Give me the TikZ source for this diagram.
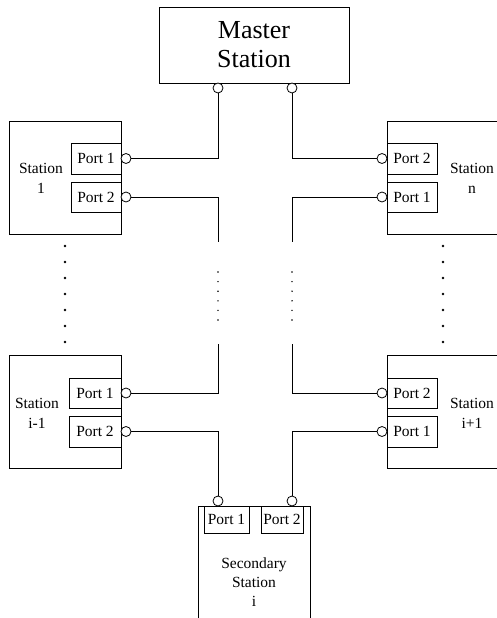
\documentclass[tikz,border=0pt]{standalone}
\usepackage{fontspec}
\setmainfont{Liberation Serif}
\begin{document}
\begin{tikzpicture}[x=1pt,y=-1pt,
  box/.style={draw, line width=0.8pt, inner sep=0pt},
  port/.style={draw, line width=0.8pt, inner sep=0pt, font=\fontsize{15.5}{18}\selectfont},
  jack/.style={draw, circle, line width=0.8pt, minimum size=10pt, inner sep=0pt, fill=white},
  wire/.style={line width=0.8pt},
  lbl/.style={font=\fontsize{15.5}{20}\selectfont, align=center, inner sep=0pt},
  bigdot/.style={circle, fill=black, minimum size=2.6pt, inner sep=0pt},
  smalldot/.style={circle, fill=black, minimum size=1.6pt, inner sep=0pt}]
\useasboundingbox (0,0) rectangle (497,618);

% Master station
\node[box, minimum width=190pt, minimum height=76pt, font=\fontsize{26}{29}\selectfont, align=center] (master) at (254,45) {Master\\Station};
\node[jack] (mL) at (218,88) {};
\node[jack] (mR) at (292,88) {};

% Station 1
\node[box, minimum width=112pt, minimum height=113pt] (st1) at (65,177.5) {};
\node[lbl] (st1l) at (41,178) {Station\\1};
\node[port, minimum width=50pt, minimum height=31pt] (s1p1) at (96,158.5) {Port 1};
\node[port, minimum width=50pt, minimum height=30pt] (s1p2) at (96,197) {Port 2};
\node[jack] (s1c1) at (126,158.5) {};
\node[jack] (s1c2) at (126,197) {};

% Station n
\node[box, minimum width=112pt, minimum height=113pt] (stn) at (443,177.5) {};
\node[lbl] (stnl) at (472,178) {Station\\n};
\node[port, minimum width=50pt, minimum height=31pt] (snp2) at (412,158.5) {Port 2};
\node[port, minimum width=50pt, minimum height=30pt] (snp1) at (412,197) {Port 1};
\node[jack] (snc2) at (382,158.5) {};
\node[jack] (snc1) at (382,197) {};

% Station i-1
\node[box, minimum width=112pt, minimum height=113pt] (sa) at (65,411.5) {};
\node[lbl] (sal) at (37,413) {Station\\i-1};
\node[port, minimum width=52pt, minimum height=30pt] (sap1) at (95,393) {Port 1};
\node[port, minimum width=52pt, minimum height=31pt] (sap2) at (95,431.5) {Port 2};
\node[jack] (sac1) at (126,393) {};
\node[jack] (sac2) at (126,431.5) {};

% Station i+1
\node[box, minimum width=112pt, minimum height=113pt] (sb) at (443,411.5) {};
\node[lbl] (sbl) at (472,413) {Station\\i+1};
\node[port, minimum width=50pt, minimum height=30pt] (sbp2) at (412,393) {Port 2};
\node[port, minimum width=50pt, minimum height=31pt] (sbp1) at (412,431.5) {Port 1};
\node[jack] (sbc2) at (382,393) {};
\node[jack] (sbc1) at (382,431.5) {};

% Secondary station i
\node[box, minimum width=112pt, minimum height=130pt] (sec) at (254,571) {};
\node[lbl, font=\fontsize{15.5}{19}\selectfont] (secl) at (254,582) {Secondary\\Station\\i};
\node[port, minimum width=45pt, minimum height=27pt] (scp1) at (226.5,519.5) {Port 1};
\node[port, minimum width=42pt, minimum height=27pt] (scp2) at (282,519.5) {Port 2};
\node[jack] (scc1) at (218,501) {};
\node[jack] (scc2) at (292,501) {};

% Wire ends at gaps
\coordinate (gL1) at (218,242);
\coordinate (gL2) at (218,344);
\coordinate (gR1) at (292,242);
\coordinate (gR2) at (292,344);

% Wires
\draw[wire] (mL.south) |- (s1c1.east);
\draw[wire] (s1c2.east) -| (gL1);
\draw[wire] (gL2) |- (sac1.east);
\draw[wire] (sac2.east) -| (scc1.north);
\draw[wire] (mR.south) |- (snc2.west);
\draw[wire] (snc1.west) -| (gR1);
\draw[wire] (gR2) |- (sbc2.west);
\draw[wire] (sbc1.west) -| (scc2.north);

% Ellipsis dots
\foreach \k in {0,...,6} {
  \node[bigdot] (dl\k) at (65,246+16*\k) {};
  \node[bigdot] (dr\k) at (443,246+16*\k) {};
}
\foreach \k in {0,...,5} {
  \node[smalldot] (ml\k) at (218,272+9.6*\k) {};
  \node[smalldot] (mr\k) at (292,272+9.6*\k) {};
}
\end{tikzpicture}
\end{document}
